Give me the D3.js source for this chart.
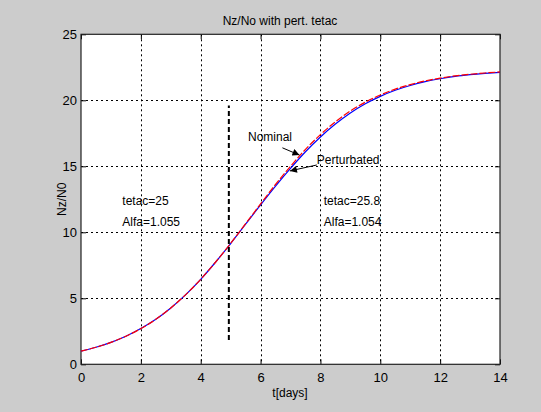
<!DOCTYPE html>
<html><head><meta charset="utf-8">
<script src="https://cdn.jsdelivr.net/npm/d3@7"></script>
<style>
html,body{margin:0;padding:0;background:#cccccc;}
svg{display:block;}
text{font-family:"Liberation Sans",Arial,sans-serif;font-size:12px;fill:#000;}
</style></head>
<body>
<script>
// ---- data ----
const days = [0,0.5,1,1.5,2,2.5,3,3.5,4,4.5,5,5.5,6,6.5,7,7.5,8,8.5,9,9.5,10,10.5,11,11.5,12,12.5,13,13.5,14];
const nominal = [1.00,1.29,1.66,2.13,2.71,3.41,4.27,5.28,6.44,7.75,9.16,10.65,12.15,13.63,15.00,16.28,17.40,18.37,19.19,19.86,20.40,20.85,21.19,21.47,21.68,21.85,21.97,22.07,22.15];
const perturbated = [1.00,1.29,1.66,2.13,2.71,3.41,4.27,5.28,6.44,7.75,9.15,10.62,12.08,13.50,14.84,16.10,17.22,18.20,19.04,19.74,20.30,20.76,21.12,21.41,21.63,21.81,21.94,22.04,22.12];
const xTicks = [0,2,4,6,8,10,12,14];
const yTicks = [0,5,10,15,20,25];
const marker = {t:4.94, y0:1.85, y1:19.6};
const titleText = "Nz/No with pert. tetac";
const xLabel = "t[days]";
const yLabel = "Nz/N0";
const notes = [
  {text:"tetac=25", t:1.38, v:12.1},
  {text:"Alfa=1.055", t:1.38, v:10.5},
  {text:"tetac=25.8", t:8.11, v:12.05},
  {text:"Alfa=1.054", t:8.11, v:10.45}
];
const arrows = [
  {text:"Nominal", tx:5.58, tv:16.9, x0:6.73, v0:16.4, x1:7.3, v1:15.85},
  {text:"Perturbated", tx:7.88, tv:15.2, x0:7.88, v0:15.1, x1:6.98, v1:14.65}
];

const W=541,H=412;
const m={l:81,r:500,t:34.3,b:364.3};
const svg=d3.select("body").append("svg").attr("width",W).attr("height",H);
const x=d3.scaleLinear().domain([0,14]).range([m.l,m.r]);
const y=d3.scaleLinear().domain([0,25]).range([m.b,m.t]);

svg.append("rect").attr("x",m.l).attr("y",m.t).attr("width",m.r-m.l).attr("height",m.b-m.t).attr("fill","#fff");

// grid
const g=svg.append("g");
g.selectAll(".gx").data(xTicks.slice(1,-1)).join("line")
 .attr("x1",d=>Math.round(x(d))+0.5).attr("x2",d=>Math.round(x(d))+0.5).attr("y1",m.t).attr("y2",m.b)
 .attr("stroke","#000").attr("stroke-width",1).attr("stroke-dasharray","2,3");
g.selectAll(".gy").data(yTicks.slice(1,-1)).join("line")
 .attr("y1",d=>Math.round(y(d))+0.5).attr("y2",d=>Math.round(y(d))+0.5).attr("x1",m.l).attr("x2",m.r)
 .attr("stroke","#000").attr("stroke-width",1).attr("stroke-dasharray","2,3");

// axes
const xa=svg.append("g").attr("transform",`translate(0,${m.b})`)
 .call(d3.axisBottom(x).tickValues(xTicks).tickSize(-5).tickPadding(8).tickFormat(d3.format("d")));
const ya=svg.append("g").attr("transform",`translate(${m.l},0)`)
 .call(d3.axisLeft(y).tickValues(yTicks).tickSize(-5).tickPadding(4).tickFormat(d3.format("d")));
const xt=svg.append("g").attr("transform",`translate(0,${m.t})`)
 .call(d3.axisTop(x).tickValues(xTicks).tickSize(-5).tickFormat(""));
const yr=svg.append("g").attr("transform",`translate(${m.r},0)`)
 .call(d3.axisRight(y).tickValues(yTicks).tickSize(-5).tickFormat(""));
[xa,ya,xt,yr].forEach(a=>{a.select(".domain").remove();a.selectAll("line").attr("stroke","#000");
 a.selectAll("text").style("font-family","Liberation Sans, Arial, sans-serif").style("font-size","13px").attr("fill","#000");});
svg.append("rect").attr("x",m.l).attr("y",m.t).attr("width",m.r-m.l).attr("height",m.b-m.t)
 .attr("fill","none").attr("stroke","#222").attr("stroke-width",1.2);

// curves
const line=d3.line().x((d,i)=>x(days[i])).y(d=>y(d)).curve(d3.curveMonotoneX);
svg.append("path").datum(perturbated).attr("d",line).attr("fill","none").attr("stroke","#0000ff").attr("stroke-width",1.2);
svg.append("path").datum(nominal).attr("d",line).attr("fill","none").attr("stroke","#ff0000").attr("stroke-width",1.2).attr("stroke-dasharray","7,2");

// vertical marker
svg.append("line").attr("x1",x(marker.t)).attr("x2",x(marker.t)).attr("y1",y(marker.y0)).attr("y2",y(marker.y1))
 .attr("stroke","#000").attr("stroke-width",2).attr("stroke-dasharray","5,3");

// notes
svg.selectAll(".note").data(notes).join("text").attr("x",d=>x(d.t)).attr("y",d=>y(d.v)).text(d=>d.text);

// arrows
svg.append("defs").append("marker").attr("id","ah").attr("viewBox","0 0 10 10").attr("refX",10).attr("refY",5)
 .attr("markerWidth",9).attr("markerHeight",7).attr("markerUnits","userSpaceOnUse").attr("orient","auto")
 .append("path").attr("d","M0,0L10,5L0,10z").attr("fill","#000");
arrows.forEach(a=>{
  svg.append("text").attr("x",x(a.tx)).attr("y",y(a.tv)).text(a.text);
  svg.append("line").attr("x1",x(a.x0)).attr("y1",y(a.v0)).attr("x2",x(a.x1)).attr("y2",y(a.v1))
   .attr("stroke","#000").attr("stroke-width",1).attr("marker-end","url(#ah)");
});

// titles
svg.append("text").attr("x",280).attr("y",25).attr("text-anchor","middle").text(titleText);
svg.append("text").attr("x",290).attr("y",397).attr("text-anchor","middle").text(xLabel);
svg.append("text").attr("transform",`translate(66,${(m.t+m.b)/2}) rotate(-90)`).attr("text-anchor","middle").text(yLabel);
</script>
</body></html>
